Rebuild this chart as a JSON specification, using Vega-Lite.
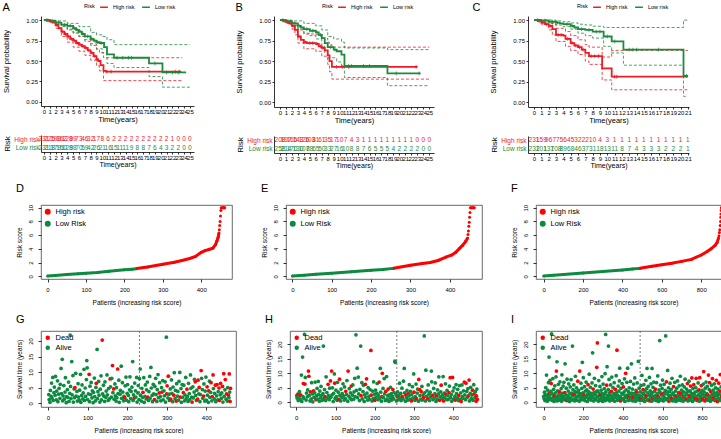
{
"$schema": "https://vega.github.io/schema/vega-lite/v6.json",
"background": "white",
"padding": {"left": 2, "top": 2, "right": 0, "bottom": 0},
"config": {
  "font": "Liberation Sans",
  "view": {"stroke": null},
  "axis": {"grid": false, "labelColor": "#000", "titleColor": "#000", "domainColor": "#000", "tickColor": "#000", "titleFontWeight": "normal", "labelOverlap": false, "labelFlush": false, "labelBound": false, "domainWidth": 0.8, "tickWidth": 0.8},
  "title": {"fontSize": 11, "fontWeight": "normal", "anchor": "start", "frame": "bounds", "color": "#000"},
  "legend": {"titleFontWeight": "normal", "labelColor": "#000", "titleColor": "#000"},
  "circle": {"opacity": 1}
},
"spacing": 7,
"resolve": {"scale": {"color": "independent"}, "legend": {"color": "independent"}},
"vconcat": [
{"spacing": 14,
 "resolve": {"scale": {"color": "independent"}, "legend": {"color": "independent"}},
 "vconcat": [
 {"spacing": 38,
  "resolve": {"scale": {"color": "independent"}, "legend": {"color": "independent"}},
  "hconcat": [
  {"spacing": 41,
   "resolve": {"scale": {"color": "independent"}, "legend": {"color": "independent"}},
   "hconcat": [
  {"title": {"text": "A", "offset": -11},
   "spacing": 12,
   "resolve": {"scale": {"color": "independent"}, "legend": {"color": "independent"}},
   "vconcat": [
    {"width": 153, "height": 90,
     "data": {"values": "g,k,t,v\nH,e,0,1\nH,e,0.5,0.995\nH,e,1,0.985\nH,e,1.5,0.97\nH,e,2,0.94\nH,e,2.5,0.9\nH,e,3,0.86\nH,e,3.5,0.83\nH,e,4,0.8\nH,e,4.5,0.77\nH,e,5,0.75\nH,e,5.5,0.72\nH,e,6,0.7\nH,e,6.5,0.68\nH,e,7,0.66\nH,e,7.5,0.63\nH,e,8,0.6\nH,e,8.5,0.56\nH,e,9,0.52\nH,e,9.3,0.5\nH,e,9.7,0.45\nH,e,10.2,0.38\nH,e,10.6,0.37\nH,e,23.5,0.37\nH,u,0,1\nH,u,1,0.995\nH,u,2,0.975\nH,u,3,0.93\nH,u,4,0.88\nH,u,5,0.84\nH,u,6,0.8\nH,u,7,0.76\nH,u,8,0.71\nH,u,9,0.64\nH,u,9.5,0.6\nH,u,10.2,0.54\nH,u,23.7,0.54\nH,l,0,1\nH,l,1,0.97\nH,l,2,0.9\nH,l,3,0.8\nH,l,4,0.73\nH,l,5,0.67\nH,l,6,0.62\nH,l,7,0.57\nH,l,8,0.51\nH,l,9,0.44\nH,l,9.5,0.38\nH,l,10.2,0.26\nH,l,23.7,0.26\nL,e,0,1\nL,e,1,0.99\nL,e,2,0.97\nL,e,3,0.945\nL,e,4,0.93\nL,e,5,0.9\nL,e,5.5,0.88\nL,e,6,0.86\nL,e,6.5,0.83\nL,e,7,0.8\nL,e,8,0.77\nL,e,8.5,0.75\nL,e,9,0.73\nL,e,9.5,0.72\nL,e,10.3,0.67\nL,e,10.8,0.58\nL,e,12,0.54\nL,e,18,0.47\nL,e,20.3,0.36\nL,e,24.2,0.35\nL,u,0,1\nL,u,2,0.99\nL,u,4,0.96\nL,u,6,0.92\nL,u,8,0.85\nL,u,9,0.82\nL,u,10,0.8\nL,u,10.8,0.76\nL,u,12,0.7\nL,u,25,0.7\nL,l,0,1\nL,l,1,0.98\nL,l,2,0.95\nL,l,3,0.92\nL,l,4,0.89\nL,l,5,0.85\nL,l,6,0.8\nL,l,7,0.74\nL,l,8,0.69\nL,l,9,0.65\nL,l,10,0.6\nL,l,10.8,0.47\nL,l,12,0.42\nL,l,18,0.31\nL,l,20.3,0.18\nL,l,25,0.18", "format": {"type": "csv", "parse": {"t": "number", "v": "number"}}},
     "encoding": {
      "x": {"field": "t", "type": "quantitative", "scale": {"domain": [-0.5, 25.7], "nice": false, "zero": false}, "axis": {"values": [0,1,2,3,4,5,6,7,8,9,10,11,12,13,14,15,16,17,18,19,20,21,22,23,24,25], "title": "Time(years)", "labelFontSize": 6, "titleFontSize": 7.5, "tickSize": 2, "labelPadding": 0.5, "titlePadding": 1}},
      "y": {"field": "v", "type": "quantitative", "scale": {"domain": [-0.05, 1.05], "nice": false, "zero": false}, "axis": {"values": [0, 0.25, 0.5, 0.75, 1], "format": ".2f", "title": "Survival probability", "labelFontSize": 6, "titleFontSize": 7.5, "tickSize": 2, "labelPadding": 1.5, "minExtent": 27.5, "maxExtent": 27.5, "titlePadding": 3}},
      "color": {"field": "g", "type": "nominal", "scale": {"domain": ["H", "L"], "range": ["#ED1C24", "#1E8A3C"]}, "legend": {"orient": "none", "legendX": 43, "legendY": -14, "direction": "horizontal", "title": "Risk", "titleOrient": "left", "titleFontSize": 5.5, "labelFontSize": 5.5, "symbolType": "stroke", "symbolStrokeWidth": 1.5, "symbolSize": 60, "columnPadding": 4, "titlePadding": 4, "padding": 0, "labelExpr": "datum.label == 'H' ? 'High risk' : 'Low risk'"}}},
     "layer": [
      {"transform": [{"filter": "datum.k != 'e'"}],
       "mark": {"type": "line", "interpolate": "step-after", "strokeWidth": 0.8, "strokeDash": [3, 2]},
       "encoding": {"detail": {"field": "k"}}},
      {"transform": [{"filter": "datum.k == 'e'"}],
       "mark": {"type": "line", "interpolate": "step-after", "strokeWidth": 1.8}},
      {"data": {"values": "g,t,v\nH,0.7,0.995\nH,1.2,0.985\nH,2.2,0.94\nH,3.2,0.86\nH,3.7,0.83\nH,4.2,0.8\nH,4.7,0.77\nH,5.2,0.75\nH,5.7,0.72\nH,6.2,0.7\nH,6.7,0.68\nH,7.2,0.66\nH,7.7,0.63\nH,8.2,0.6\nH,8.7,0.56\nH,9.1,0.52\nH,10.8,0.37\nH,11.5,0.37\nH,22.5,0.37\nH,23.2,0.37\nL,0.5,1\nL,1.5,0.99\nL,2.5,0.97\nL,3.5,0.945\nL,4.5,0.93\nL,5.2,0.9\nL,5.7,0.88\nL,6.2,0.86\nL,6.7,0.83\nL,7.5,0.8\nL,8.2,0.77\nL,8.7,0.75\nL,9.2,0.73\nL,9.8,0.72\nL,12.5,0.54\nL,13.5,0.54\nL,14.5,0.54\nL,15,0.54\nL,19,0.47\nL,21,0.36\nL,22,0.36\nL,23,0.36", "format": {"type": "csv", "parse": {"t": "number", "v": "number"}}},
       "mark": {"type": "point", "shape": "M-1,0L1,0M0,-1L0,1", "filled": false, "size": 14, "strokeWidth": 0.8, "opacity": 1}},
      {"data": {"values": [{}]},
       "mark": {"type": "text", "align": "left", "baseline": "middle", "fontSize": 9},
       "encoding": {"x": {"datum": 2}, "y": {"datum": 0.19}, "text": {"value": "p<0.001"}, "color": {"value": "#000"}}}
     ]},
    {"width": 153, "height": 17,
     "data": {"values": "g,t,n\nH,0,231\nH,1,225\nH,2,198\nH,3,162\nH,4,128\nH,5,99\nH,6,73\nH,7,46\nH,8,32\nH,9,17\nH,10,8\nH,11,6\nH,12,2\nH,13,2\nH,14,2\nH,15,2\nH,16,2\nH,17,2\nH,18,2\nH,19,2\nH,20,2\nH,21,2\nH,22,1\nH,23,0\nH,24,0\nH,25,0\nL,0,231\nL,1,218\nL,2,179\nL,3,150\nL,4,128\nL,5,98\nL,6,70\nL,7,59\nL,8,42\nL,9,26\nL,10,21\nL,11,16\nL,12,15\nL,13,11\nL,14,11\nL,15,9\nL,16,8\nL,17,8\nL,18,7\nL,19,6\nL,20,4\nL,21,3\nL,22,2\nL,23,2\nL,24,0\nL,25,0", "format": {"type": "csv", "parse": {"t": "number"}}},
     "mark": {"type": "text", "fontSize": 6.5},
     "encoding": {
      "x": {"field": "t", "type": "quantitative", "scale": {"domain": [-0.5, 25.7], "nice": false, "zero": false}, "axis": {"values": [0,1,2,3,4,5,6,7,8,9,10,11,12,13,14,15,16,17,18,19,20,21,22,23,24,25], "title": "Time(years)", "labelFontSize": 6, "titleFontSize": 7, "tickSize": 2, "labelPadding": 0.5, "titlePadding": 0}},
      "y": {"field": "g", "type": "nominal", "scale": {"domain": ["H", "L"]}, "axis": {"title": "Risk", "titleFontSize": 8, "labelFontSize": 6.5, "labelAlign": "right", "ticks": false, "labelPadding": 2, "minExtent": 29.5, "maxExtent": 29.5, "titlePadding": 0.5, "labelExpr": "datum.value == 'H' ? 'High risk' : 'Low risk'", "labelColor": {"condition": {"test": "datum.value == 'H'", "value": "#ED1C24"}, "value": "#1E8A3C"}}},
      "text": {"field": "n"},
      "color": {"field": "g", "type": "nominal", "scale": {"domain": ["H", "L"], "range": ["#ED1C24", "#1E8A3C"]}, "legend": null}}}
   ]},
  {"title": {"text": "B", "offset": -11},
   "spacing": 12,
   "resolve": {"scale": {"color": "independent"}, "legend": {"color": "independent"}},
   "vconcat": [
    {"width": 160, "height": 91,
     "data": {"values": "g,k,t,v\nH,e,0,1\nH,e,0.5,0.99\nH,e,1,0.98\nH,e,1.5,0.96\nH,e,2,0.93\nH,e,2.5,0.88\nH,e,3,0.8\nH,e,3.5,0.76\nH,e,4,0.73\nH,e,4.5,0.72\nH,e,6,0.71\nH,e,6.5,0.68\nH,e,7,0.66\nH,e,7.5,0.63\nH,e,8,0.57\nH,e,8.3,0.5\nH,e,8.7,0.43\nH,e,23,0.43\nH,u,0,1\nH,u,1,0.995\nH,u,2,0.97\nH,u,2.5,0.94\nH,u,3,0.88\nH,u,4,0.83\nH,u,6,0.82\nH,u,7,0.78\nH,u,8,0.73\nH,u,8.3,0.7\nH,u,8.7,0.67\nH,u,25,0.67\nH,l,0,1\nH,l,1,0.96\nH,l,2,0.89\nH,l,2.5,0.82\nH,l,3,0.72\nH,l,4,0.65\nH,l,6,0.62\nH,l,7,0.56\nH,l,8,0.46\nH,l,8.3,0.37\nH,l,8.7,0.28\nH,l,25,0.28\nL,e,0,1\nL,e,1,0.985\nL,e,2,0.96\nL,e,3,0.93\nL,e,3.5,0.91\nL,e,4,0.89\nL,e,5,0.87\nL,e,6,0.85\nL,e,6.5,0.82\nL,e,7,0.78\nL,e,7.5,0.72\nL,e,8,0.67\nL,e,9,0.64\nL,e,9.5,0.62\nL,e,10.3,0.58\nL,e,10.8,0.44\nL,e,18,0.35\nL,e,23.5,0.35\nL,u,0,1\nL,u,2,0.99\nL,u,4,0.96\nL,u,6,0.93\nL,u,7,0.88\nL,u,8,0.8\nL,u,9,0.77\nL,u,10.3,0.73\nL,u,10.8,0.66\nL,u,18,0.64\nL,u,25,0.64\nL,l,0,1\nL,l,1,0.97\nL,l,2,0.93\nL,l,3,0.89\nL,l,4,0.84\nL,l,5,0.81\nL,l,6,0.77\nL,l,7,0.68\nL,l,7.5,0.6\nL,l,8,0.54\nL,l,9.5,0.49\nL,l,10.3,0.44\nL,l,10.8,0.3\nL,l,18,0.2\nL,l,25,0.2", "format": {"type": "csv", "parse": {"t": "number", "v": "number"}}},
     "encoding": {
      "x": {"field": "t", "type": "quantitative", "scale": {"domain": [-1.0, 25.8], "nice": false, "zero": false}, "axis": {"values": [0,1,2,3,4,5,6,7,8,9,10,11,12,13,14,15,16,17,18,19,20,21,22,23,24,25], "title": "Time(years)", "labelFontSize": 6, "titleFontSize": 7.5, "tickSize": 2, "labelPadding": 0.5, "titlePadding": 1}},
      "y": {"field": "v", "type": "quantitative", "scale": {"domain": [-0.06, 1.05], "nice": false, "zero": false}, "axis": {"values": [0, 0.25, 0.5, 0.75, 1], "format": ".2f", "title": "Survival probability", "labelFontSize": 6, "titleFontSize": 7.5, "tickSize": 2, "labelPadding": 1.5, "minExtent": 27.5, "maxExtent": 27.5, "titlePadding": 3}},
      "color": {"field": "g", "type": "nominal", "scale": {"domain": ["H", "L"], "range": ["#ED1C24", "#1E8A3C"]}, "legend": {"orient": "none", "legendX": 48, "legendY": -14, "direction": "horizontal", "title": "Risk", "titleOrient": "left", "titleFontSize": 5.5, "labelFontSize": 5.5, "symbolType": "stroke", "symbolStrokeWidth": 1.5, "symbolSize": 60, "columnPadding": 4, "titlePadding": 4, "padding": 0, "labelExpr": "datum.label == 'H' ? 'High risk' : 'Low risk'"}}},
     "layer": [
      {"transform": [{"filter": "datum.k != 'e'"}],
       "mark": {"type": "line", "interpolate": "step-after", "strokeWidth": 0.8, "strokeDash": [3, 2]},
       "encoding": {"detail": {"field": "k"}}},
      {"transform": [{"filter": "datum.k == 'e'"}],
       "mark": {"type": "line", "interpolate": "step-after", "strokeWidth": 1.8}},
      {"data": {"values": "g,t,v\nH,0.7,0.99\nH,1.2,0.98\nH,1.7,0.96\nH,2.2,0.93\nH,3.2,0.8\nH,4.2,0.73\nH,5,0.72\nH,5.5,0.72\nH,6.2,0.71\nH,6.8,0.68\nH,7.2,0.66\nH,9.5,0.43\nH,10.5,0.43\nH,11.5,0.43\nH,22.8,0.43\nL,0.5,1\nL,1.5,0.985\nL,2.5,0.96\nL,3.2,0.93\nL,4.5,0.89\nL,5.5,0.87\nL,6.2,0.85\nL,6.8,0.82\nL,8.5,0.67\nL,9.2,0.64\nL,11.5,0.44\nL,12,0.44\nL,14,0.44\nL,15,0.44\nL,19.5,0.35\nL,23.3,0.35", "format": {"type": "csv", "parse": {"t": "number", "v": "number"}}},
       "mark": {"type": "point", "shape": "M-1,0L1,0M0,-1L0,1", "filled": false, "size": 14, "strokeWidth": 0.8, "opacity": 1}},
      {"data": {"values": [{}]},
       "mark": {"type": "text", "align": "left", "baseline": "middle", "fontSize": 9},
       "encoding": {"x": {"datum": 0.7}, "y": {"datum": 0.19}, "text": {"value": "p=0.032"}, "color": {"value": "#000"}}}
     ]},
    {"width": 160, "height": 17,
     "data": {"values": "g,t,n\nH,0,208\nH,1,197\nH,2,165\nH,3,143\nH,4,126\nH,5,103\nH,6,81\nH,7,61\nH,8,35\nH,9,17\nH,10,10\nH,11,7\nH,12,4\nH,13,3\nH,14,1\nH,15,1\nH,16,1\nH,17,1\nH,18,1\nH,19,1\nH,20,1\nH,21,1\nH,22,1\nH,23,0\nH,24,0\nH,25,0\nL,0,258\nL,1,214\nL,2,170\nL,3,130\nL,4,107\nL,5,88\nL,6,65\nL,7,50\nL,8,33\nL,9,27\nL,10,16\nL,11,10\nL,12,8\nL,13,8\nL,14,7\nL,15,6\nL,16,5\nL,17,5\nL,18,5\nL,19,4\nL,20,2\nL,21,2\nL,22,2\nL,23,2\nL,24,0\nL,25,0", "format": {"type": "csv", "parse": {"t": "number"}}},
     "mark": {"type": "text", "fontSize": 6.5},
     "encoding": {
      "x": {"field": "t", "type": "quantitative", "scale": {"domain": [-1.0, 25.8], "nice": false, "zero": false}, "axis": {"values": [0,1,2,3,4,5,6,7,8,9,10,11,12,13,14,15,16,17,18,19,20,21,22,23,24,25], "title": "Time(years)", "labelFontSize": 6, "titleFontSize": 7, "tickSize": 2, "labelPadding": 0.5, "titlePadding": 0}},
      "y": {"field": "g", "type": "nominal", "scale": {"domain": ["H", "L"]}, "axis": {"title": "Risk", "titleFontSize": 8, "labelFontSize": 6.5, "labelAlign": "right", "ticks": false, "labelPadding": 2, "minExtent": 29.5, "maxExtent": 29.5, "titlePadding": 0.5, "labelExpr": "datum.value == 'H' ? 'High risk' : 'Low risk'", "labelColor": {"condition": {"test": "datum.value == 'H'", "value": "#ED1C24"}, "value": "#1E8A3C"}}},
      "text": {"field": "n"},
      "color": {"field": "g", "type": "nominal", "scale": {"domain": ["H", "L"], "range": ["#ED1C24", "#1E8A3C"]}, "legend": null}}}
   ]}
   ]},
  {"title": {"text": "C", "offset": -11, "dx": -17},
   "spacing": 12,
   "resolve": {"scale": {"color": "independent"}, "legend": {"color": "independent"}},
   "vconcat": [
    {"width": 161, "height": 91,
     "data": {"values": "g,k,t,v\nH,e,0,1\nH,e,0.5,0.99\nH,e,1,0.97\nH,e,1.5,0.95\nH,e,2,0.93\nH,e,2.5,0.89\nH,e,3,0.82\nH,e,4,0.81\nH,e,4.3,0.77\nH,e,5,0.72\nH,e,5.5,0.69\nH,e,6,0.67\nH,e,6.5,0.64\nH,e,7,0.6\nH,e,7.5,0.56\nH,e,9.3,0.41\nH,e,10.6,0.31\nH,e,21,0.31\nH,u,0,1\nH,u,1,0.995\nH,u,2,0.98\nH,u,2.5,0.95\nH,u,3,0.9\nH,u,4.3,0.86\nH,u,5,0.81\nH,u,6,0.76\nH,u,7,0.7\nH,u,7.5,0.67\nH,u,9.3,0.55\nH,u,10.6,0.63\nH,u,21,0.63\nH,l,0,1\nH,l,1,0.95\nH,l,2,0.88\nH,l,2.5,0.82\nH,l,3,0.74\nH,l,4.3,0.68\nH,l,5,0.63\nH,l,6,0.58\nH,l,7,0.5\nH,l,7.5,0.46\nH,l,9.3,0.27\nH,l,10.6,0.15\nH,l,21,0.15\nL,e,0,1\nL,e,1,0.995\nL,e,2,0.98\nL,e,3,0.97\nL,e,3.5,0.96\nL,e,4,0.95\nL,e,5,0.93\nL,e,5.5,0.91\nL,e,6,0.89\nL,e,7,0.88\nL,e,8,0.86\nL,e,9.5,0.8\nL,e,10.6,0.74\nL,e,12.2,0.64\nL,e,20.4,0.32\nL,e,21,0.32\nL,u,0,1\nL,u,3,0.99\nL,u,4,0.98\nL,u,5,0.965\nL,u,6,0.95\nL,u,7,0.94\nL,u,8,0.925\nL,u,9.5,0.91\nL,u,20.4,1\nL,u,21,1\nL,l,0,1\nL,l,1,0.98\nL,l,2,0.96\nL,l,3,0.94\nL,l,4,0.92\nL,l,5,0.89\nL,l,6,0.84\nL,l,7,0.81\nL,l,8,0.78\nL,l,9.5,0.68\nL,l,10.6,0.6\nL,l,12.2,0.45\nL,l,20.4,0.07\nL,l,21,0.07", "format": {"type": "csv", "parse": {"t": "number", "v": "number"}}},
     "encoding": {
      "x": {"field": "t", "type": "quantitative", "scale": {"domain": [-0.82, 21.15], "nice": false, "zero": false}, "axis": {"values": [0,1,2,3,4,5,6,7,8,9,10,11,12,13,14,15,16,17,18,19,20,21], "title": "Time(years)", "labelFontSize": 6, "titleFontSize": 7.5, "tickSize": 2, "labelPadding": 0.5, "titlePadding": 1}},
      "y": {"field": "v", "type": "quantitative", "scale": {"domain": [-0.06, 1.05], "nice": false, "zero": false}, "axis": {"values": [0, 0.25, 0.5, 0.75, 1], "format": ".2f", "title": "Survival probability", "labelFontSize": 6, "titleFontSize": 7.5, "tickSize": 2, "labelPadding": 1.5, "minExtent": 27.5, "maxExtent": 27.5, "titlePadding": 3}},
      "color": {"field": "g", "type": "nominal", "scale": {"domain": ["H", "L"], "range": ["#ED1C24", "#1E8A3C"]}, "legend": {"orient": "none", "legendX": 49, "legendY": -14, "direction": "horizontal", "title": "Risk", "titleOrient": "left", "titleFontSize": 5.5, "labelFontSize": 5.5, "symbolType": "stroke", "symbolStrokeWidth": 1.5, "symbolSize": 60, "columnPadding": 4, "titlePadding": 4, "padding": 0, "labelExpr": "datum.label == 'H' ? 'High risk' : 'Low risk'"}}},
     "layer": [
      {"transform": [{"filter": "datum.k != 'e'"}],
       "mark": {"type": "line", "interpolate": "step-after", "strokeWidth": 0.8, "strokeDash": [3, 2]},
       "encoding": {"detail": {"field": "k"}}},
      {"transform": [{"filter": "datum.k == 'e'"}],
       "mark": {"type": "line", "interpolate": "step-after", "strokeWidth": 1.8}},
      {"data": {"values": "g,t,v\nH,0.7,0.99\nH,1.2,0.97\nH,1.7,0.95\nH,2.2,0.93\nH,3.3,0.82\nH,3.7,0.82\nH,4.6,0.77\nH,5.2,0.72\nH,5.7,0.69\nH,6.2,0.67\nH,6.7,0.64\nH,7.8,0.56\nH,8.3,0.56\nH,8.8,0.56\nH,11,0.31\nH,11.3,0.31\nL,0.5,1\nL,1.5,0.995\nL,2.5,0.98\nL,3.2,0.97\nL,4.5,0.95\nL,5.2,0.93\nL,6.5,0.89\nL,7.5,0.88\nL,8.5,0.86\nL,9,0.86\nL,10,0.8\nL,11,0.74\nL,13,0.64\nL,13.5,0.64\nL,14,0.64\nL,17,0.64\nL,20.8,0.32", "format": {"type": "csv", "parse": {"t": "number", "v": "number"}}},
       "mark": {"type": "point", "shape": "M-1,0L1,0M0,-1L0,1", "filled": false, "size": 14, "strokeWidth": 0.8, "opacity": 1}},
      {"data": {"values": [{}]},
       "mark": {"type": "text", "align": "left", "baseline": "middle", "fontSize": 9},
       "encoding": {"x": {"datum": 0.55}, "y": {"datum": 0.19}, "text": {"value": "p<0.001"}, "color": {"value": "#000"}}}
     ]},
    {"width": 161, "height": 17,
     "data": {"values": "g,t,n\nH,0,231\nH,1,159\nH,2,96\nH,3,77\nH,4,56\nH,5,45\nH,6,32\nH,7,22\nH,8,10\nH,9,4\nH,10,3\nH,11,1\nH,12,1\nH,13,1\nH,14,1\nH,15,1\nH,16,1\nH,17,1\nH,18,1\nH,19,1\nH,20,1\nH,21,1\nL,0,231\nL,1,201\nL,2,137\nL,3,108\nL,4,89\nL,5,68\nL,6,46\nL,7,37\nL,8,31\nL,9,18\nL,10,13\nL,11,11\nL,12,8\nL,13,7\nL,14,4\nL,15,3\nL,16,3\nL,17,3\nL,18,2\nL,19,2\nL,20,2\nL,21,1", "format": {"type": "csv", "parse": {"t": "number"}}},
     "mark": {"type": "text", "fontSize": 6.5},
     "encoding": {
      "x": {"field": "t", "type": "quantitative", "scale": {"domain": [-0.82, 21.15], "nice": false, "zero": false}, "axis": {"values": [0,1,2,3,4,5,6,7,8,9,10,11,12,13,14,15,16,17,18,19,20,21], "title": "Time(years)", "labelFontSize": 6, "titleFontSize": 7, "tickSize": 2, "labelPadding": 0.5, "titlePadding": 0}},
      "y": {"field": "g", "type": "nominal", "scale": {"domain": ["H", "L"]}, "axis": {"title": "Risk", "titleFontSize": 8, "labelFontSize": 6.5, "labelAlign": "right", "ticks": false, "labelPadding": 2, "minExtent": 29.5, "maxExtent": 29.5, "titlePadding": 0.5, "labelExpr": "datum.value == 'H' ? 'High risk' : 'Low risk'", "labelColor": {"condition": {"test": "datum.value == 'H'", "value": "#ED1C24"}, "value": "#1E8A3C"}}},
      "text": {"field": "n"},
      "color": {"field": "g", "type": "nominal", "scale": {"domain": ["H", "L"], "range": ["#ED1C24", "#1E8A3C"]}, "legend": null}}}
   ]}
 ]},
 {"spacing": 27,
  "resolve": {"scale": {"color": "independent"}, "legend": {"color": "independent"}},
  "hconcat": [
  {"width": 191, "height": 74,
   "title": {"text": "D", "offset": 10},
   "view": {"stroke": "#444", "strokeWidth": 0.8},
   "data": {"values": "p,r,g,k\n0,0.03,L,c\n20,0.12,L,c\n50,0.25,L,c\n80,0.37,L,c\n100,0.44,L,c\n130,0.56,L,c\n160,0.72,L,c\n200,0.95,L,c\n220,1.04,L,c\n231,1.1,L,c\n232,1.12,H,c\n260,1.35,H,c\n300,1.75,H,c\n330,2.05,H,c\n350,2.3,H,c\n370,2.6,H,c\n385,2.9,H,c\n400,3.5,H,c\n410,3.75,H,c\n420,3.9,H,c\n430,4.1,H,c\n437,4.6,H,c\n441,5.2,H,c\n444,5.7,H,c\n446,6.3,H,c\n447,6.8,H,d\n448,7.4,H,d\n449,8.0,H,d\n450,8.8,H,d\n451,9.6,H,d\n452,10,H,d\n454,10,H,d\n456,10,H,d\n458,10,H,d\n460,10,H,d\n461,10,H,d", "format": {"type": "csv", "parse": {"p": "number", "r": "number"}}},
   "encoding": {
    "x": {"field": "p", "type": "quantitative", "scale": {"domain": [-17, 480], "nice": false, "zero": false}, "axis": {"values": [0, 100, 200, 300, 400], "title": "Patients (increasing risk score)", "domain": false, "tickSize": 3, "labelPadding": 4, "titlePadding": 7, "labelFontSize": 6, "titleFontSize": 6.5}},
    "y": {"field": "r", "type": "quantitative", "scale": {"domain": [-0.4, 10.4], "nice": false, "zero": false}, "axis": {"values": [0, 2, 4, 6, 8, 10], "title": "Risk score", "domain": false, "tickSize": 3, "labelAngle": 270, "labelPadding": 5, "minExtent": 14, "maxExtent": 14, "titlePadding": 5, "labelFontSize": 6, "titleFontSize": 6.5}},
    "color": {"field": "g", "type": "nominal", "scale": {"domain": ["H", "L"], "range": ["#FF0000", "#0C8A3F"]}, "legend": {"orient": "top-left", "offset": 3, "padding": 0, "title": null, "labelExpr": "datum.label == 'H' ? 'High risk' : 'Low Risk'", "symbolType": "circle", "symbolSize": 20, "labelFontSize": 7.5, "rowPadding": 1}}},
   "layer": [
    {"mark": {"type": "circle", "size": 9, "opacity": 1}},
    {"transform": [{"filter": "datum.k == 'c'"}], "mark": {"type": "line", "strokeWidth": 3}},
    {"data": {"values": [{}]}, "mark": {"type": "rule", "strokeDash": [2, 2], "strokeWidth": 0.8}, "encoding": {"x": {"datum": 231}, "y": {"datum": -0.4}, "y2": {"datum": 10.4}, "color": {"value": "#555"}}},
    {"data": {"values": [{}]}, "mark": {"type": "rule", "strokeDash": [2, 2], "strokeWidth": 0.8}, "encoding": {"y": {"datum": 1.1}, "x": {"datum": -17}, "x2": {"datum": 480}, "color": {"value": "#555"}}}
   ]},
  {"width": 196, "height": 74,
   "title": {"text": "E", "offset": 10},
   "view": {"stroke": "#444", "strokeWidth": 0.8},
   "data": {"values": "p,r,g,k\n0,0.03,L,c\n30,0.15,L,c\n60,0.28,L,c\n100,0.45,L,c\n150,0.65,L,c\n200,0.87,L,c\n230,1.0,L,c\n256,1.15,L,c\n257,1.17,H,c\n300,1.6,H,c\n330,1.85,H,c\n350,2.0,H,c\n370,2.3,H,c\n390,2.8,H,c\n405,3.1,H,c\n415,3.5,H,c\n425,4.1,H,c\n432,4.5,H,c\n440,5.1,H,c\n445,5.6,H,c\n446,6.1,H,d\n447,6.6,H,d\n448,7.3,H,d\n449,7.9,H,d\n450,8.6,H,d\n451,9.3,H,d\n452,10,H,d\n454,10,H,d\n456,10,H,d\n458,10,H,d\n460,10,H,d\n462,10,H,d", "format": {"type": "csv", "parse": {"p": "number", "r": "number"}}},
   "encoding": {
    "x": {"field": "p", "type": "quantitative", "scale": {"domain": [-16, 481.5], "nice": false, "zero": false}, "axis": {"values": [0, 100, 200, 300, 400], "title": "Patients (increasing risk score)", "domain": false, "tickSize": 3, "labelPadding": 4, "titlePadding": 7, "labelFontSize": 6, "titleFontSize": 6.5}},
    "y": {"field": "r", "type": "quantitative", "scale": {"domain": [-0.4, 10.4], "nice": false, "zero": false}, "axis": {"values": [0, 2, 4, 6, 8, 10], "title": "Risk score", "domain": false, "tickSize": 3, "labelAngle": 270, "labelPadding": 5, "minExtent": 14, "maxExtent": 14, "titlePadding": 5, "labelFontSize": 6, "titleFontSize": 6.5}},
    "color": {"field": "g", "type": "nominal", "scale": {"domain": ["H", "L"], "range": ["#FF0000", "#0C8A3F"]}, "legend": {"orient": "top-left", "offset": 3, "padding": 0, "title": null, "labelExpr": "datum.label == 'H' ? 'High risk' : 'Low Risk'", "symbolType": "circle", "symbolSize": 20, "labelFontSize": 7.5, "rowPadding": 1}}},
   "layer": [
    {"mark": {"type": "circle", "size": 9, "opacity": 1}},
    {"transform": [{"filter": "datum.k == 'c'"}], "mark": {"type": "line", "strokeWidth": 3}},
    {"data": {"values": [{}]}, "mark": {"type": "rule", "strokeDash": [2, 2], "strokeWidth": 0.8}, "encoding": {"x": {"datum": 256}, "y": {"datum": -0.4}, "y2": {"datum": 10.4}, "color": {"value": "#555"}}},
    {"data": {"values": [{}]}, "mark": {"type": "rule", "strokeDash": [2, 2], "strokeWidth": 0.8}, "encoding": {"y": {"datum": 1.15}, "x": {"datum": -16}, "x2": {"datum": 481.5}, "color": {"value": "#555"}}}
   ]},
  {"width": 195, "height": 74,
   "title": {"text": "F", "offset": 10},
   "view": {"stroke": "#444", "strokeWidth": 0.8},
   "data": {"values": "p,r,g,k\n0,0.03,L,c\n50,0.13,L,c\n100,0.25,L,c\n200,0.48,L,c\n300,0.7,L,c\n400,0.92,L,c\n450,1.05,L,c\n487,1.15,L,c\n488,1.17,H,c\n550,1.45,H,c\n600,1.69,H,c\n650,1.9,H,c\n700,2.17,H,c\n750,2.46,H,c\n800,3.1,H,c\n830,3.6,H,c\n850,4.0,H,c\n870,4.5,H,c\n880,4.9,H,c\n888,5.6,H,c\n890,5.9,H,d\n892,6.4,H,d\n894,6.8,H,d\n896,7.4,H,d\n898,8.0,H,d\n899,8.6,H,d\n900,9.1,H,d\n901,9.6,H,d\n902,10,H,d\n906,10,H,d\n910,10,H,d\n914,10,H,d\n918,10,H,d\n922,10,H,d", "format": {"type": "csv", "parse": {"p": "number", "r": "number"}}},
   "encoding": {
    "x": {"field": "p", "type": "quantitative", "scale": {"domain": [-39, 951], "nice": false, "zero": false}, "axis": {"values": [0, 200, 400, 600, 800], "title": "Patients (increasing risk score)", "domain": false, "tickSize": 3, "labelPadding": 4, "titlePadding": 7, "labelFontSize": 6, "titleFontSize": 6.5}},
    "y": {"field": "r", "type": "quantitative", "scale": {"domain": [-0.4, 10.4], "nice": false, "zero": false}, "axis": {"values": [0, 2, 4, 6, 8, 10], "title": "Risk score", "domain": false, "tickSize": 3, "labelAngle": 270, "labelPadding": 5, "minExtent": 14, "maxExtent": 14, "titlePadding": 5, "labelFontSize": 6, "titleFontSize": 6.5}},
    "color": {"field": "g", "type": "nominal", "scale": {"domain": ["H", "L"], "range": ["#FF0000", "#0C8A3F"]}, "legend": {"orient": "top-left", "offset": 3, "padding": 0, "title": null, "labelExpr": "datum.label == 'H' ? 'High risk' : 'Low Risk'", "symbolType": "circle", "symbolSize": 20, "labelFontSize": 7.5, "rowPadding": 1}}},
   "layer": [
    {"mark": {"type": "circle", "size": 9, "opacity": 1}},
    {"transform": [{"filter": "datum.k == 'c'"}], "mark": {"type": "line", "strokeWidth": 3}},
    {"data": {"values": [{}]}, "mark": {"type": "rule", "strokeDash": [2, 2], "strokeWidth": 0.8}, "encoding": {"x": {"datum": 487}, "y": {"datum": -0.4}, "y2": {"datum": 10.4}, "color": {"value": "#555"}}},
    {"data": {"values": [{}]}, "mark": {"type": "rule", "strokeDash": [2, 2], "strokeWidth": 0.8}, "encoding": {"y": {"datum": 1.15}, "x": {"datum": -39}, "x2": {"datum": 951}, "color": {"value": "#555"}}}
   ]}
 ]}
 ]},
 {"spacing": 27,
  "resolve": {"scale": {"color": "independent"}, "legend": {"color": "independent"}},
  "hconcat": [
  {"width": 195, "height": 76,
   "title": {"text": "G", "offset": 6},
   "view": {"stroke": "#444", "strokeWidth": 0.8},
   "layer": [
    {"data": {"values": "p,t,s\n2,2.8,0\n3,1.2,0\n5,0.3,0\n6,4.1,0\n8,2.2,0\n9,6.5,0\n10,1.7,0\n12,8.3,0\n13,0.9,0\n15,3.4,0\n16,5.2,0\n18,2.6,0\n19,8.6,0\n21,1.1,0\n22,3.9,0\n24,7.2,0\n25,0.5,0\n27,2.9,0\n28,4.8,0\n30,1.6,0\n31,6.1,0\n33,11.2,0\n34,3.1,0\n36,14.1,0\n37,0.8,0\n38,2.4,0\n40,5.7,0\n41,1.3,0\n43,3.6,0\n44,8.2,0\n46,0.2,0\n47,2.1,0\n49,4.4,0\n50,1.9,0\n52,6.8,0\n53,0.6,0\n55,3.2,0\n56,21.9,0\n57,5.4,0\n58,1.5,0\n60,13.4,0\n61,2.7,0\n63,8.9,0\n64,0.4,0\n66,4.6,0\n67,1.8,0\n68,5.0,1\n70,9.6,0\n71,2.3,0\n73,3.8,0\n74,0.7,0\n76,6.3,0\n77,2.0,0\n79,1.0,0\n80,4.2,0\n82,9.3,0\n83,0.3,0\n85,2.5,0\n86,5.9,0\n88,1.4,0\n89,3.3,0\n91,10.9,0\n92,0.9,0\n94,4.9,0\n95,2.2,0\n97,7.6,0\n98,13.7,0\n99,11.4,0\n100,1.2,0\n102,3.0,0\n104,9.3,1\n105,0.5,0\n106,5.5,0\n108,2.8,0\n109,6.7,0\n111,1.7,0\n112,4.0,0\n114,0.2,0\n115,3.5,0\n117,8.1,0\n118,2.1,0\n120,0.8,0\n121,5.1,0\n122,6.4,1\n124,17.3,0\n125,1.5,0\n126,3.7,0\n128,7.0,0\n129,2.6,0\n131,0.4,0\n132,4.5,0\n134,8.8,0\n135,1.1,0\n137,20.3,1\n138,3.0,0\n140,5.8,0\n141,2.3,0\n143,0.6,0\n144,6.9,0\n146,1.9,0\n147,3.9,0\n149,9.1,0\n150,2.7,0\n152,0.9,0\n153,4.7,0\n155,1.4,0\n157,7.8,1\n158,5.3,0\n160,2.0,0\n161,8.0,0\n163,12.1,1\n164,3.4,0\n166,4.6,1\n167,1.3,0\n169,6.2,0\n170,2.4,0\n172,0.7,0\n173,5.0,0\n174,1.8,0\n176,11.0,1\n177,3.1,0\n179,7.4,0\n180,0.3,0\n182,2.9,0\n183,4.1,0\n185,11.9,0\n186,1.6,0\n188,6.6,0\n189,3.6,0\n191,0.8,0\n192,2.2,0\n194,1.8,1\n195,5.6,0\n197,8.4,0\n198,1.0,0\n200,3.2,0\n201,6.0,0\n203,2.5,0\n204,0.5,0\n206,4.3,0\n207,8.5,0\n209,1.5,0\n210,3.8,0\n212,5.2,0\n214,13.4,0\n215,0.9,0\n216,2.7,0\n218,1.7,1\n219,6.5,0\n221,4.0,0\n222,2.0,0\n224,8.3,0\n225,0.4,0\n227,3.3,0\n228,5.7,0\n230,1.2,0\n231,7.9,0\n233,11.0,0\n234,2.6,0\n236,0.7,0\n237,4.8,0\n239,1.9,0\n240,3.5,1\n242,8.2,0\n243,0.3,0\n245,2.2,0\n246,5.9,0\n248,1.4,0\n249,4.3,0\n251,6.8,0\n252,2.0,1\n254,0.9,0\n255,3.7,0\n257,8.6,0\n258,1.6,0\n260,11.5,0\n261,4.9,0\n263,2.5,0\n264,0.5,0\n266,6.1,0\n267,3.0,0\n269,1.2,1\n270,5.4,0\n272,8.0,0\n273,2.8,0\n275,0.6,0\n276,4.4,0\n278,9.2,0\n279,1.8,0\n281,3.3,1\n282,6.6,0\n284,2.1,0\n285,0.8,0\n287,5.0,0\n288,3.6,1\n290,7.3,0\n291,1.1,0\n293,4.0,0\n294,2.4,0\n296,6.9,0\n297,0.4,0\n299,21.2,0\n300,3.0,1\n301,5.6,1\n303,1.7,0\n304,8.7,1\n306,2.9,0\n307,0.9,0\n309,4.6,0\n310,1.3,1\n312,7.5,0\n313,3.2,0\n315,0.5,0\n316,5.2,0\n318,2.6,1\n319,9.8,0\n321,1.5,0\n322,4.1,0\n324,0.7,1\n325,6.3,0\n327,2.3,0\n328,3.8,0\n330,1.0,0\n331,7.0,0\n333,9.9,0\n334,2.0,1\n336,4.7,0\n337,0.3,0\n339,6.0,0\n340,1.9,0\n342,3.4,1\n343,5.8,0\n345,0.8,0\n346,2.7,0\n348,8.3,0\n349,1.4,0\n351,4.5,1\n352,2.2,0\n354,0.6,0\n355,6.4,0\n357,3.1,0\n358,1.2,0\n360,9.1,0\n361,4.8,0\n363,2.0,0\n364,0.4,1\n366,5.3,0\n367,1.7,0\n369,3.6,0\n370,7.7,0\n372,6.9,1\n373,2.5,0\n375,0.9,0\n376,4.2,0\n378,1.3,1\n379,7.4,1\n381,3.0,0\n382,5.1,1\n384,0.5,0\n385,2.8,0\n387,10.5,1\n388,8.0,0\n390,4.4,0\n391,1.6,0\n393,2.3,1\n394,6.2,0\n396,0.7,0\n397,3.9,0\n399,8.4,0\n400,1.0,0\n402,5.3,1\n403,2.6,0\n405,0.3,0\n406,4.0,1\n408,7.1,0\n409,1.9,0\n411,3.5,0\n412,6.6,1\n414,0.8,0\n415,2.1,1\n417,9.1,1\n418,4.7,0\n420,1.4,0\n421,3.2,0\n423,5.8,1\n424,0.5,0\n426,2.4,0\n427,6.0,1\n429,1.1,0\n430,3.7,0\n432,4.9,1\n433,0.9,1\n435,2.7,0\n436,6.4,1\n438,1.6,0\n439,3.3,0\n441,5.4,1\n442,0.4,0\n444,9.5,1\n445,2.2,0\n447,4.3,0\n448,7.6,1\n450,1.3,0\n451,3.0,1\n453,0.7,0\n454,5.0,0\n456,2.5,1\n457,1.8,0\n458,9.4,1\n459,3.6,0\n460,0.6,1\n461,4.8,1", "format": {"type": "csv", "parse": {"p": "number", "t": "number", "s": "string"}}},
     "mark": {"type": "circle", "size": 14, "opacity": 1},
     "encoding": {
      "x": {"field": "p", "type": "quantitative", "scale": {"domain": [-17.7, 475], "nice": false, "zero": false}, "axis": {"values": [0, 100, 200, 300, 400], "title": "Patients (increasing risk score)", "domain": false, "tickSize": 3, "labelPadding": 4, "titlePadding": 7, "labelFontSize": 6, "titleFontSize": 6.5}},
      "y": {"field": "t", "type": "quantitative", "scale": {"domain": [-1.2, 23.2], "nice": false, "zero": false}, "axis": {"values": [0, 5, 10, 15, 20], "title": "Survival time (years)", "domain": false, "tickSize": 3, "labelAngle": 270, "labelPadding": 5, "minExtent": 14, "maxExtent": 14, "titlePadding": 5, "labelFontSize": 6, "titleFontSize": 6.5}},
      "color": {"field": "s", "type": "nominal", "scale": {"domain": ["1", "0"], "range": ["#FF0000", "#0C8A3F"]}, "legend": {"orient": "top-left", "offset": 3, "padding": 0, "title": null, "labelExpr": "datum.value == '1' ? 'Dead' : 'Alive'", "symbolType": "circle", "symbolSize": 20, "labelFontSize": 7.5, "rowPadding": 1}}}},
    {"data": {"values": [{}]}, "mark": {"type": "rule", "strokeDash": [2, 2], "strokeWidth": 0.8, "color": "#555"}, "encoding": {"x": {"datum": 231}}}
   ]},
  {"width": 192, "height": 76,
   "title": {"text": "H", "offset": 6},
   "view": {"stroke": "#444", "strokeWidth": 0.8},
   "layer": [
    {"data": {"values": "p,t,s\n1,2.3,0\n2,1.5,0\n4,2.8,1\n5,0.6,0\n7,2.1,0\n8,3.7,0\n10,1.0,0\n11,2.6,1\n13,9.4,0\n14,0.3,0\n16,15.6,0\n17,2.0,0\n18,6.5,1\n19,1.4,0\n21,23.4,0\n22,6.3,1\n23,8.6,0\n25,0.8,0\n26,3.2,0\n28,1.9,0\n29,4.3,0\n31,10.8,1\n32,9.0,1\n33,2.4,0\n35,0.5,0\n36,3.6,1\n38,1.2,0\n39,6.8,0\n41,2.9,0\n42,0.2,0\n44,4.0,1\n45,1.7,0\n47,3.3,0\n48,7.0,0\n50,0.9,1\n51,2.2,0\n53,4.8,0\n54,1.1,0\n56,7.2,0\n57,2.7,0\n59,0.4,0\n60,3.9,0\n62,1.6,0\n63,5.5,0\n65,2.5,0\n66,0.7,0\n68,3.0,0\n69,19.4,0\n70,1.3,0\n72,4.4,0\n73,2.0,1\n75,0.6,0\n76,8.8,0\n78,3.4,0\n79,1.5,0\n81,6.2,1\n82,2.3,0\n84,0.9,0\n85,4.9,0\n87,7.4,1\n88,1.8,0\n90,10.8,1\n91,2.6,0\n92,5.0,0\n94,0.3,0\n95,3.1,0\n97,9.8,0\n98,6.6,1\n99,1.4,0\n101,4.2,0\n102,2.0,0\n104,0.7,0\n105,6.9,0\n107,3.5,0\n108,1.0,1\n110,8.0,1\n111,2.4,0\n113,0.5,0\n114,4.6,0\n116,1.7,0\n117,3.0,0\n119,6.4,0\n120,2.2,0\n122,0.8,0\n123,5.3,0\n125,1.3,0\n126,3.8,1\n128,2.7,0\n129,7.5,0\n131,0.4,0\n132,10.8,1\n134,2.1,0\n135,4.7,0\n137,1.5,0\n138,3.3,0\n140,5.6,1\n141,0.9,0\n143,2.5,0\n144,6.0,0\n146,1.1,0\n147,3.6,0\n149,8.3,0\n150,2.0,0\n152,23.3,0\n153,4.1,0\n155,11.8,0\n156,1.6,0\n158,8.7,0\n159,2.9,0\n161,0.6,0\n162,4.5,0\n164,19.4,0\n165,2.3,1\n167,6.8,0\n168,1.2,0\n170,3.7,0\n171,5.9,0\n173,0.3,0\n174,2.6,0\n176,6.2,1\n177,1.8,0\n179,8.1,1\n180,3.2,0\n182,0.8,0\n183,5.1,0\n185,2.1,0\n186,1.0,0\n188,4.4,0\n190,17.9,1\n191,2.5,1\n193,0.5,0\n194,3.9,0\n196,1.4,0\n197,7.1,0\n199,2.8,0\n200,0.7,1\n202,4.2,0\n203,1.7,0\n205,3.1,0\n206,6.5,0\n208,0.9,0\n209,2.4,0\n211,7.0,1\n212,1.3,0\n214,11.7,0\n215,3.5,0\n217,0.4,0\n218,2.0,1\n219,10.0,1\n221,4.8,0\n222,1.6,0\n224,8.2,0\n225,2.9,0\n227,0.6,0\n228,3.8,1\n230,8.9,0\n231,1.1,0\n233,2.3,0\n234,4.6,1\n236,0.3,0\n237,2.6,0\n239,1.5,0\n240,5.2,0\n242,3.0,0\n243,0.8,0\n245,2.1,0\n246,4.4,1\n248,1.2,0\n249,3.4,0\n251,14.2,0\n252,13.8,0\n254,2.7,0\n255,0.5,0\n257,1.9,1\n258,3.6,0\n260,0.9,0\n261,2.4,0\n263,6.6,0\n264,1.4,0\n266,3.1,0\n267,0.6,0\n269,4.9,0\n270,2.0,1\n272,1.2,0\n273,7.3,0\n275,11.7,0\n276,3.3,0\n278,0.4,0\n279,2.5,1\n281,1.7,0\n282,4.1,0\n284,0.8,0\n285,3.0,1\n287,2.2,0\n288,6.1,0\n290,1.0,0\n291,3.8,0\n293,0.5,1\n294,2.7,0\n296,5.4,0\n297,1.5,0\n299,9.8,0\n300,3.5,1\n302,0.7,0\n303,2.0,0\n305,6.3,0\n306,1.3,1\n308,3.2,0\n309,4.6,0\n311,0.4,0\n312,7.9,1\n314,4.4,1\n315,2.3,0\n317,1.0,0\n318,3.7,1\n320,5.5,0\n321,0.8,0\n323,2.6,0\n324,1.6,1\n326,22.9,0\n327,3.3,0\n329,0.5,0\n330,11.1,0\n332,2.1,0\n333,4.0,0\n335,1.2,1\n336,6.0,0\n338,2.8,0\n339,0.6,0\n341,3.5,0\n342,1.8,0\n344,10.8,0\n345,7.1,0\n347,2.4,1\n348,0.9,0\n350,4.8,0\n351,1.5,0\n353,3.0,0\n354,6.7,0\n356,0.3,0\n357,2.2,1\n359,1.1,0\n360,4.3,0\n362,2.9,0\n363,8.8,0\n365,0.7,1\n366,1.9,0\n368,3.6,0\n369,5.9,1\n371,1.3,0\n372,2.5,0\n374,8.9,0\n375,0.5,1\n377,3.2,0\n378,1.7,0\n380,6.4,0\n381,2.8,1\n383,0.9,0\n384,4.1,0\n386,2.3,0\n387,1.0,0\n389,3.4,1\n390,5.6,0\n392,8.5,1\n393,1.6,0\n395,2.7,0\n396,0.4,0\n398,8.6,1\n399,3.9,0\n401,1.2,0\n402,5.0,0\n404,2.1,0\n405,0.8,1\n407,6.1,0\n408,3.0,0\n410,1.5,0\n411,4.5,0\n413,0.6,0\n414,2.4,1\n416,5.8,0\n417,1.1,0\n419,3.3,0\n420,0.3,1\n422,6.0,0\n423,2.0,0\n425,1.4,0\n426,4.0,0\n428,7.0,1\n429,2.6,0\n431,0.9,0\n432,6.6,1\n434,3.8,0\n435,1.7,0\n437,4.7,0\n438,2.2,1\n440,7.7,1\n441,0.5,0\n443,3.1,0\n444,5.2,0\n446,1.3,0\n447,2.5,0\n449,4.2,1\n450,0.7,0\n452,6.1,0\n453,2.9,1\n455,1.6,0\n456,3.7,0\n458,0.4,1\n459,2.2,1\n460,4.6,0\n461,1.0,1", "format": {"type": "csv", "parse": {"p": "number", "t": "number", "s": "string"}}},
     "mark": {"type": "circle", "size": 14, "opacity": 1},
     "encoding": {
      "x": {"field": "p", "type": "quantitative", "scale": {"domain": [-16, 473], "nice": false, "zero": false}, "axis": {"values": [0, 100, 200, 300, 400], "title": "Patients (increasing risk score)", "domain": false, "tickSize": 3, "labelPadding": 4, "titlePadding": 7, "labelFontSize": 6, "titleFontSize": 6.5}},
      "y": {"field": "t", "type": "quantitative", "scale": {"domain": [-1.6, 24.6], "nice": false, "zero": false}, "axis": {"values": [0, 5, 10, 15, 20], "title": "Survival time (years)", "domain": false, "tickSize": 3, "labelAngle": 270, "labelPadding": 5, "minExtent": 14, "maxExtent": 14, "titlePadding": 5, "labelFontSize": 6, "titleFontSize": 6.5}},
      "color": {"field": "s", "type": "nominal", "scale": {"domain": ["1", "0"], "range": ["#FF0000", "#0C8A3F"]}, "legend": {"orient": "top-left", "offset": 3, "padding": 0, "title": null, "labelExpr": "datum.value == '1' ? 'Dead' : 'Alive'", "symbolType": "circle", "symbolSize": 20, "labelFontSize": 7.5, "rowPadding": 1}}}},
    {"data": {"values": [{}]}, "mark": {"type": "rule", "strokeDash": [2, 2], "strokeWidth": 0.8, "color": "#555"}, "encoding": {"x": {"datum": 256}}}
   ]},
  {"width": 195, "height": 76,
   "title": {"text": "I", "offset": 6},
   "view": {"stroke": "#444", "strokeWidth": 0.8},
   "layer": [
    {"data": {"values": "p,t,s\n0,2.1,0\n2,1.3,0\n4,3.5,0\n6,0.6,0\n8,2.7,0\n10,5.1,0\n12,1.0,0\n14,9.4,0\n16,2.3,0\n18,0.4,0\n20,4.2,0\n22,1.7,0\n24,6.8,0\n26,3.0,1\n27,15.6,0\n28,0.9,0\n30,2.5,0\n32,7.6,0\n34,1.4,0\n36,3.8,0\n38,6.5,1\n40,23.6,0\n42,0.7,0\n44,2.9,0\n46,8.2,0\n48,1.8,0\n50,4.5,0\n52,0.3,0\n54,2.2,1\n56,5.7,0\n58,1.1,0\n60,3.3,0\n62,8.8,0\n64,10.8,1\n65,2.0,0\n67,14.0,0\n68,0.5,0\n70,4.0,0\n72,1.6,0\n74,6.2,0\n76,2.6,0\n78,0.8,0\n80,3.6,1\n82,7.1,0\n84,1.2,0\n86,2.4,0\n88,4.7,0\n90,0.4,0\n92,9.5,0\n94,3.1,0\n96,1.5,0\n98,5.6,0\n100,2.0,0\n102,6.9,0\n104,0.9,0\n106,3.4,1\n108,13.3,0\n110,1.3,0\n112,2.7,0\n114,4.9,0\n116,0.6,1\n118,8.0,0\n120,2.2,0\n122,1.0,0\n124,3.9,0\n126,6.4,0\n128,1.7,0\n130,0.3,0\n132,2.9,0\n134,5.3,0\n136,1.4,0\n138,7.8,0\n140,3.2,0\n142,0.8,0\n145,19.4,0\n146,2.4,0\n148,4.4,0\n150,1.1,0\n152,6.0,0\n154,2.8,1\n156,0.5,0\n158,3.7,0\n160,9.0,0\n162,1.5,0\n164,2.1,0\n166,5.0,0\n168,0.7,0\n170,3.5,0\n172,7.3,1\n174,1.9,0\n176,4.1,0\n178,2.5,0\n180,0.4,0\n182,10.8,1\n184,3.0,0\n186,1.2,0\n188,6.6,0\n190,2.3,0\n192,4.8,0\n194,0.9,0\n195,13.8,0\n196,1.6,0\n198,3.3,0\n200,8.5,0\n202,1.0,0\n204,2.6,1\n206,5.4,0\n208,0.6,0\n210,3.9,0\n212,1.8,0\n214,7.0,0\n216,2.0,0\n218,4.3,0\n220,0.3,0\n222,2.8,0\n224,6.1,1\n226,1.4,0\n228,3.6,0\n230,9.7,0\n232,1.1,0\n234,2.4,0\n236,5.2,0\n238,0.8,0\n240,3.1,0\n242,1.7,0\n244,6.7,0\n247,17.1,0\n248,2.2,0\n250,4.6,1\n252,0.5,0\n254,3.4,0\n256,8.3,0\n258,1.3,0\n260,2.7,0\n262,5.8,0\n264,0.9,0\n266,3.7,0\n268,12.1,1\n270,1.9,0\n271,20.5,1\n272,4.0,0\n274,2.1,0\n276,0.4,0\n278,7.5,0\n280,3.2,0\n282,1.0,0\n284,5.5,0\n286,2.5,1\n288,0.7,0\n290,4.2,0\n292,1.6,0\n294,8.9,0\n296,3.0,0\n298,0.3,0\n300,6.3,0\n302,2.0,0\n304,1.2,0\n306,4.7,0\n308,2.9,0\n310,9.9,0\n312,0.6,0\n313,23.4,0\n314,3.6,0\n316,1.5,0\n318,5.9,1\n320,12.3,0\n322,2.3,0\n324,0.9,0\n326,4.4,0\n327,19.4,0\n328,1.8,0\n330,7.9,0\n332,3.3,0\n334,0.5,0\n336,2.6,0\n338,6.0,0\n340,1.1,0\n342,3.8,1\n344,8.7,0\n346,2.1,0\n348,0.8,0\n350,5.1,0\n352,1.4,0\n354,3.0,0\n356,6.8,0\n358,0.4,0\n360,2.7,0\n362,4.5,1\n364,1.7,0\n366,9.2,0\n368,3.4,0\n370,18.0,1\n372,0.7,0\n374,2.4,0\n376,5.6,0\n378,1.2,0\n380,3.9,0\n382,7.4,0\n384,11.8,0\n386,2.0,0\n388,0.5,1\n390,4.8,0\n392,1.5,0\n394,3.1,0\n396,6.5,0\n398,0.9,0\n400,2.8,0\n402,5.3,1\n404,1.3,0\n406,3.6,0\n408,8.1,0\n410,0.3,0\n412,2.2,0\n414,10.0,1\n416,4.3,0\n418,1.6,0\n420,6.9,0\n422,2.5,0\n424,11.8,0\n426,0.6,0\n428,3.7,0\n430,1.9,1\n432,5.0,0\n434,2.9,0\n436,0.8,0\n438,7.2,0\n440,1.4,0\n443,13.3,0\n444,3.2,0\n446,2.1,0\n448,4.6,0\n450,0.5,0\n452,1.7,1\n454,6.3,0\n456,3.0,0\n458,1.0,0\n460,8.4,0\n462,2.4,0\n464,0.4,0\n466,4.1,0\n468,1.8,0\n470,3.5,1\n472,6.7,0\n474,2.6,0\n476,0.9,0\n478,14.1,0\n480,1.3,0\n482,4.9,0\n484,2.3,0\n486,0.6,0\n488,3.6,0\n490,1.5,1\n492,5.8,0\n494,2.0,0\n496,9.3,0\n498,0.7,0\n500,3.1,0\n502,4.4,1\n504,1.2,0\n506,6.1,0\n508,2.7,0\n510,0.3,0\n512,3.9,0\n514,1.6,0\n516,7.6,0\n518,2.2,1\n520,4.7,0\n522,11.7,0\n524,0.8,0\n526,3.3,0\n528,5.5,0\n530,1.0,0\n532,2.5,0\n534,8.6,0\n536,0.5,1\n538,4.0,0\n540,1.9,0\n542,6.4,0\n544,2.9,0\n546,0.4,0\n547,11.7,0\n548,3.4,0\n550,1.4,1\n552,5.2,0\n554,2.1,0\n556,7.0,0\n558,0.9,0\n560,3.8,0\n562,1.7,0\n564,4.6,1\n566,2.4,0\n568,0.6,0\n570,6.8,0\n572,1.2,0\n574,3.0,0\n576,9.1,0\n578,2.0,1\n580,0.3,0\n582,4.3,0\n584,1.5,0\n586,21.3,0\n588,3.5,0\n590,5.9,0\n592,0.8,0\n594,2.7,1\n596,1.1,0\n598,4.8,0\n600,7.7,0\n602,2.3,0\n604,0.5,0\n606,3.2,1\n608,6.2,0\n610,1.6,0\n612,2.9,0\n614,4.1,0\n616,22.9,0\n618,0.9,0\n620,7.1,1\n622,3.6,0\n624,1.3,0\n626,11.0,0\n628,2.6,0\n630,5.0,0\n632,0.4,1\n634,1.8,0\n636,3.7,0\n638,6.6,0\n640,2.2,0\n642,0.7,0\n644,4.5,0\n646,1.4,1\n648,8.3,0\n650,2.8,0\n652,0.5,0\n654,3.3,0\n656,5.4,1\n658,1.0,0\n660,2.4,0\n662,6.9,0\n664,1.6,0\n666,3.9,0\n668,0.3,0\n670,2.1,1\n672,4.9,0\n674,1.2,0\n676,7.4,0\n678,2.6,0\n680,0.8,0\n682,3.4,1\n684,5.7,0\n686,1.7,0\n688,2.3,0\n690,9.0,0\n692,0.6,0\n694,3.0,1\n696,4.2,0\n698,1.3,0\n700,6.0,0\n702,2.5,0\n704,0.4,0\n706,3.6,0\n708,1.9,1\n710,5.3,0\n712,2.0,0\n714,8.0,0\n716,0.9,0\n718,3.2,0\n720,1.1,1\n722,4.6,0\n724,2.7,0\n726,6.5,1\n728,0.5,0\n730,3.8,0\n732,1.5,0\n734,7.3,0\n736,2.2,1\n738,0.7,0\n740,4.0,0\n742,5.6,1\n744,1.3,0\n746,3.1,0\n748,8.4,1\n750,2.4,0\n752,0.3,0\n754,4.8,0\n756,1.8,0\n758,6.1,1\n760,2.9,0\n762,0.9,0\n764,3.5,0\n766,1.4,1\n768,5.1,0\n770,8.3,1\n772,2.1,0\n774,0.6,0\n776,3.9,0\n778,1.0,1\n780,6.7,0\n782,2.6,0\n784,4.3,1\n786,0.4,0\n788,8.5,1\n790,1.6,0\n792,3.3,0\n794,2.0,0\n796,5.8,1\n798,0.8,0\n800,4.1,0\n802,1.2,1\n804,2.8,0\n806,6.3,0\n808,10.6,1\n810,3.6,0\n812,1.9,0\n814,0.5,1\n816,4.9,0\n818,2.3,0\n820,7.0,0\n822,1.1,1\n824,3.0,0\n826,5.5,0\n828,0.7,0\n830,2.5,1\n832,9.4,1\n834,1.5,0\n836,4.4,0\n838,6.8,1\n840,2.0,0\n842,0.4,0\n844,3.7,1\n846,1.3,0\n848,5.9,0\n850,2.7,0\n852,8.2,1\n854,0.9,0\n856,4.2,0\n858,1.7,1\n860,3.2,0\n862,6.4,0\n864,2.2,0\n866,0.6,1\n868,5.0,0\n870,1.0,0\n872,7.6,1\n874,3.4,0\n876,2.4,0\n878,0.3,1\n880,4.6,0\n882,1.5,0\n884,6.6,1\n886,2.8,0\n888,0.8,0\n890,3.9,1\n892,9.6,1\n894,1.2,0\n896,5.3,0\n898,2.0,1\n900,0.5,0\n902,3.1,0\n904,7.2,1\n906,1.8,0\n908,4.0,1\n910,2.6,0\n912,0.7,1\n914,6.0,0\n916,3.5,0\n918,1.4,1\n920,4.7,0\n922,2.1,1\n923,5.8,0", "format": {"type": "csv", "parse": {"p": "number", "t": "number", "s": "string"}}},
     "mark": {"type": "circle", "size": 14, "opacity": 1},
     "encoding": {
      "x": {"field": "p", "type": "quantitative", "scale": {"domain": [-39, 946], "nice": false, "zero": false}, "axis": {"values": [0, 200, 400, 600, 800], "title": "Patients (increasing risk score)", "domain": false, "tickSize": 3, "labelPadding": 4, "titlePadding": 7, "labelFontSize": 6, "titleFontSize": 6.5}},
      "y": {"field": "t", "type": "quantitative", "scale": {"domain": [-1.6, 24.6], "nice": false, "zero": false}, "axis": {"values": [0, 5, 10, 15, 20], "title": "Survival time (years)", "domain": false, "tickSize": 3, "labelAngle": 270, "labelPadding": 5, "minExtent": 14, "maxExtent": 14, "titlePadding": 5, "labelFontSize": 6, "titleFontSize": 6.5}},
      "color": {"field": "s", "type": "nominal", "scale": {"domain": ["1", "0"], "range": ["#FF0000", "#0C8A3F"]}, "legend": {"orient": "top-left", "offset": 3, "padding": 0, "title": null, "labelExpr": "datum.value == '1' ? 'Dead' : 'Alive'", "symbolType": "circle", "symbolSize": 20, "labelFontSize": 7.5, "rowPadding": 1}}}},
    {"data": {"values": [{}]}, "mark": {"type": "rule", "strokeDash": [2, 2], "strokeWidth": 0.8, "color": "#555"}, "encoding": {"x": {"datum": 487}}}
   ]}
 ]}
]
}
